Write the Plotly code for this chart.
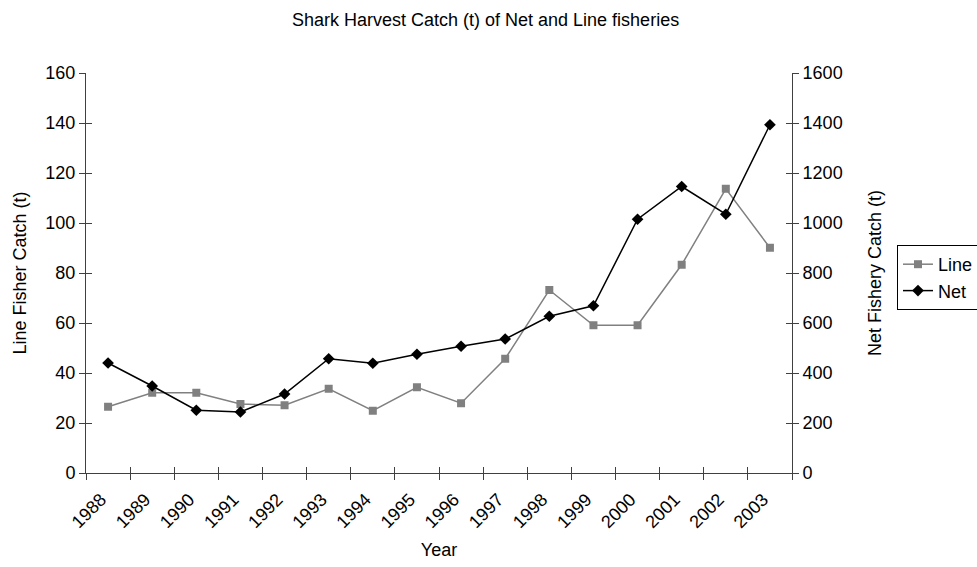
import plotly.graph_objects as go

# Shark harvest catch (tonnes) by fishery, 1988-2003
years = [str(y) for y in range(1988, 2004)]
line_catch = [26.5, 32.1, 32.1, 27.6, 27.1, 33.7, 24.9, 34.3, 27.9, 45.7,
              73.2, 59.1, 59.1, 83.3, 113.7, 90.1]
net_catch = [440, 348, 251, 244, 316, 457, 439, 475, 507, 536,
             627, 669, 1015, 1146, 1035, 1393]

left_ticks = [0, 20, 40, 60, 80, 100, 120, 140, 160]
right_ticks = [0, 200, 400, 600, 800, 1000, 1200, 1400, 1600]

FONT = "Liberation Sans, Arial, sans-serif"
AXIS_COLOR = "#404040"
cat_range = [-0.5, len(years) - 0.5]

fig = go.Figure()

fig.add_trace(go.Scatter(
    x=years, y=line_catch, name="Line", mode="lines+markers",
    line=dict(color="#808080", width=1.5),
    marker=dict(symbol="square", size=8, color="#808080"),
    xaxis="x", yaxis="y",
))
fig.add_trace(go.Scatter(
    x=years, y=net_catch, name="Net", mode="lines+markers",
    line=dict(color="#000000", width=1.5),
    marker=dict(symbol="diamond", size=9, color="#000000"),
    xaxis="x", yaxis="y2",
))
# Invisible helpers so the inner half of each cross-style tick mark is drawn
fig.add_trace(go.Scatter(x=years, y=line_catch, mode="markers",
                         marker=dict(opacity=0), showlegend=False,
                         hoverinfo="skip", xaxis="x3", yaxis="y3"))
fig.add_trace(go.Scatter(x=years, y=net_catch, mode="markers",
                         marker=dict(opacity=0), showlegend=False,
                         hoverinfo="skip", xaxis="x", yaxis="y4"))

tick_font = dict(family=FONT, size=18, color="#000000")
title_font = dict(family=FONT, size=18, color="#000000")

fig.update_layout(
    width=977, height=567,
    margin=dict(l=86, r=185, t=73, b=94, autoexpand=False),
    paper_bgcolor="white", plot_bgcolor="white",
    font=dict(family=FONT, size=18, color="#000000"),
    title=dict(text="Shark Harvest Catch (t) of Net and Line fisheries",
               x=0.497, xanchor="center", y=0.965, yanchor="middle",
               font=dict(family=FONT, size=18, color="#000000")),
    xaxis=dict(type="category", categoryorder="array", categoryarray=years,
               range=cat_range, autorange=False,
               tickson="boundaries", ticks="outside", ticklen=6, tickwidth=1,
               tickcolor=AXIS_COLOR, showline=True, linecolor=AXIS_COLOR,
               linewidth=1, showgrid=False, zeroline=False, tickangle=-45,
               tickfont=tick_font, ticklabelshift=-7, ticklabelstandoff=8,
               title=dict(text="Year", font=title_font, standoff=12),
               anchor="y"),
    xaxis3=dict(type="category", categoryorder="array", categoryarray=years,
                range=cat_range, autorange=False,
                overlaying="x", tickson="boundaries", ticks="inside",
                ticklen=6, tickwidth=1, tickcolor=AXIS_COLOR,
                showticklabels=False, showline=False, showgrid=False,
                zeroline=False, anchor="y3", side="bottom"),
    yaxis=dict(range=[0, 160], tickvals=left_ticks, ticks="outside",
               ticklen=6, tickwidth=1, tickcolor=AXIS_COLOR, showline=True,
               linecolor=AXIS_COLOR, linewidth=1, showgrid=False,
               zeroline=False, tickfont=tick_font,
               title=dict(text="Line Fisher Catch (t)", font=title_font,
                          standoff=14)),
    yaxis3=dict(range=[0, 160], tickvals=left_ticks, ticks="inside",
                ticklen=6, tickwidth=1, tickcolor=AXIS_COLOR,
                showticklabels=False, showline=False, showgrid=False,
                zeroline=False, overlaying="y", side="left", anchor="x3"),
    yaxis2=dict(range=[0, 1600], tickvals=right_ticks, ticks="outside",
                ticklen=6, tickwidth=1, tickcolor=AXIS_COLOR, showline=True,
                linecolor=AXIS_COLOR, linewidth=1, showgrid=False,
                zeroline=False, tickfont=tick_font, overlaying="y",
                side="right", anchor="x",
                title=dict(text="Net Fishery Catch (t)", font=title_font,
                           standoff=26)),
    yaxis4=dict(range=[0, 1600], tickvals=right_ticks, ticks="inside",
                ticklen=6, tickwidth=1, tickcolor=AXIS_COLOR,
                showticklabels=False, showline=False, showgrid=False,
                zeroline=False, overlaying="y", side="right", anchor="x"),
    legend=dict(x=1.1487, y=0.57, xanchor="left", yanchor="top",
                bordercolor="#000000", borderwidth=1, bgcolor="white",
                font=dict(family=FONT, size=18, color="#000000"),
                itemwidth=30, tracegroupgap=0),
    showlegend=True,
)

fig.write_html("out.html")
